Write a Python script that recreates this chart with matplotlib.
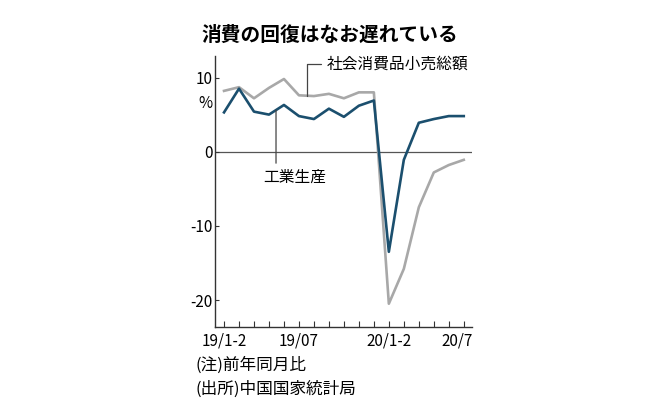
import matplotlib
matplotlib.use('Agg')
import matplotlib.pyplot as plt
import matplotlib.transforms as mtransforms

plt.rcParams['font.family'] = ['Noto Sans CJK JP', 'DejaVu Sans']

## data (前年同月比, %)
months = ['19/1-2', '19/03', '19/04', '19/05', '19/06', '19/07', '19/08', '19/09',
          '19/10', '19/11', '19/12', '20/1-2', '20/03', '20/04', '20/05', '20/06', '20/7']
retail = [8.2, 8.7, 7.2, 8.6, 9.8, 7.6, 7.5, 7.8, 7.2, 8.0, 8.0,
          -20.5, -15.8, -7.5, -2.8, -1.8, -1.1]
industry = [5.3, 8.5, 5.4, 5.0, 6.3, 4.8, 4.4, 5.8, 4.7, 6.2, 6.9,
            -13.5, -1.1, 3.9, 4.4, 4.8, 4.8]
label_idx = [0, 5, 11, 16]
yticks = [10, 0, -10, -20]

gray = '#a8a8a8'
navy = '#1b4f6e'
dark = '#444444'

fig = plt.figure(figsize=(6.68, 3.99), dpi=100)
ax = fig.add_axes([0.3219, 0.1812, 0.3847, 0.6784])

x = list(range(len(months)))
ax.axhline(0, color='#555555', lw=0.9, zorder=1)
ax.plot(x, retail, color=gray, lw=1.9, zorder=2)
ax.plot(x, industry, color=navy, lw=1.9, zorder=3)

ax.set_xlim(-0.6, 16.55)
ax.set_ylim(-23.6, 12.9)

for s in ['top', 'right']:
    ax.spines[s].set_visible(False)
for s in ['left', 'bottom']:
    ax.spines[s].set_color('#333333')
    ax.spines[s].set_linewidth(1.0)

ax.set_xticks(x, minor=True)
ax.set_xticks(label_idx)
ax.set_xticklabels([months[i] for i in label_idx], fontsize=11)
ax.tick_params(axis='x', which='both', direction='in', length=4, width=0.8,
               color='#333333', pad=4)
ax.set_yticks(yticks)
ax.set_yticklabels([str(v) for v in yticks], fontsize=11)
ax.tick_params(axis='y', direction='in', length=3, width=0.8, color='#333333', pad=2)

# last x label sits a little left of its tick
lab = ax.get_xticklabels()[-1]
lab.set_transform(lab.get_transform() + mtransforms.ScaledTranslation(-7/100, 0, fig.dpi_scale_trans))

ax.text(-0.01, 6.5, '%', transform=ax.get_yaxis_transform(), ha='right', va='center',
        fontsize=11)

## labels
ax.annotate('社会消費品小売総額', xy=(5.53, 7.55), xytext=(6.87, 11.8),
            ha='left', va='center', fontsize=11.3,
            arrowprops=dict(arrowstyle='-', color=dark, lw=0.9, shrinkA=2, shrinkB=0,
                            relpos=(0, 0.5),
                            connectionstyle='angle,angleA=0,angleB=90,rad=0'))
ax.annotate('', xy=(3.47, 5.6), xytext=(3.47, -1.55),
            arrowprops=dict(arrowstyle='-', color=dark, lw=0.9, shrinkA=0, shrinkB=0))
ax.text(2.6, -3.4, '工業生産', ha='left', va='center', fontsize=11.3)

fig.text(0.494, 0.912, '消費の回復はなお遅れている', ha='center', va='center',
         fontsize=14.2, fontweight='bold')
fig.text(0.293, 0.085, '(注)前年同月比', ha='left', va='center', fontsize=12)
fig.text(0.293, 0.025, '(出所)中国国家統計局', ha='left', va='center', fontsize=12)

fig.savefig('out.png', dpi=100)
